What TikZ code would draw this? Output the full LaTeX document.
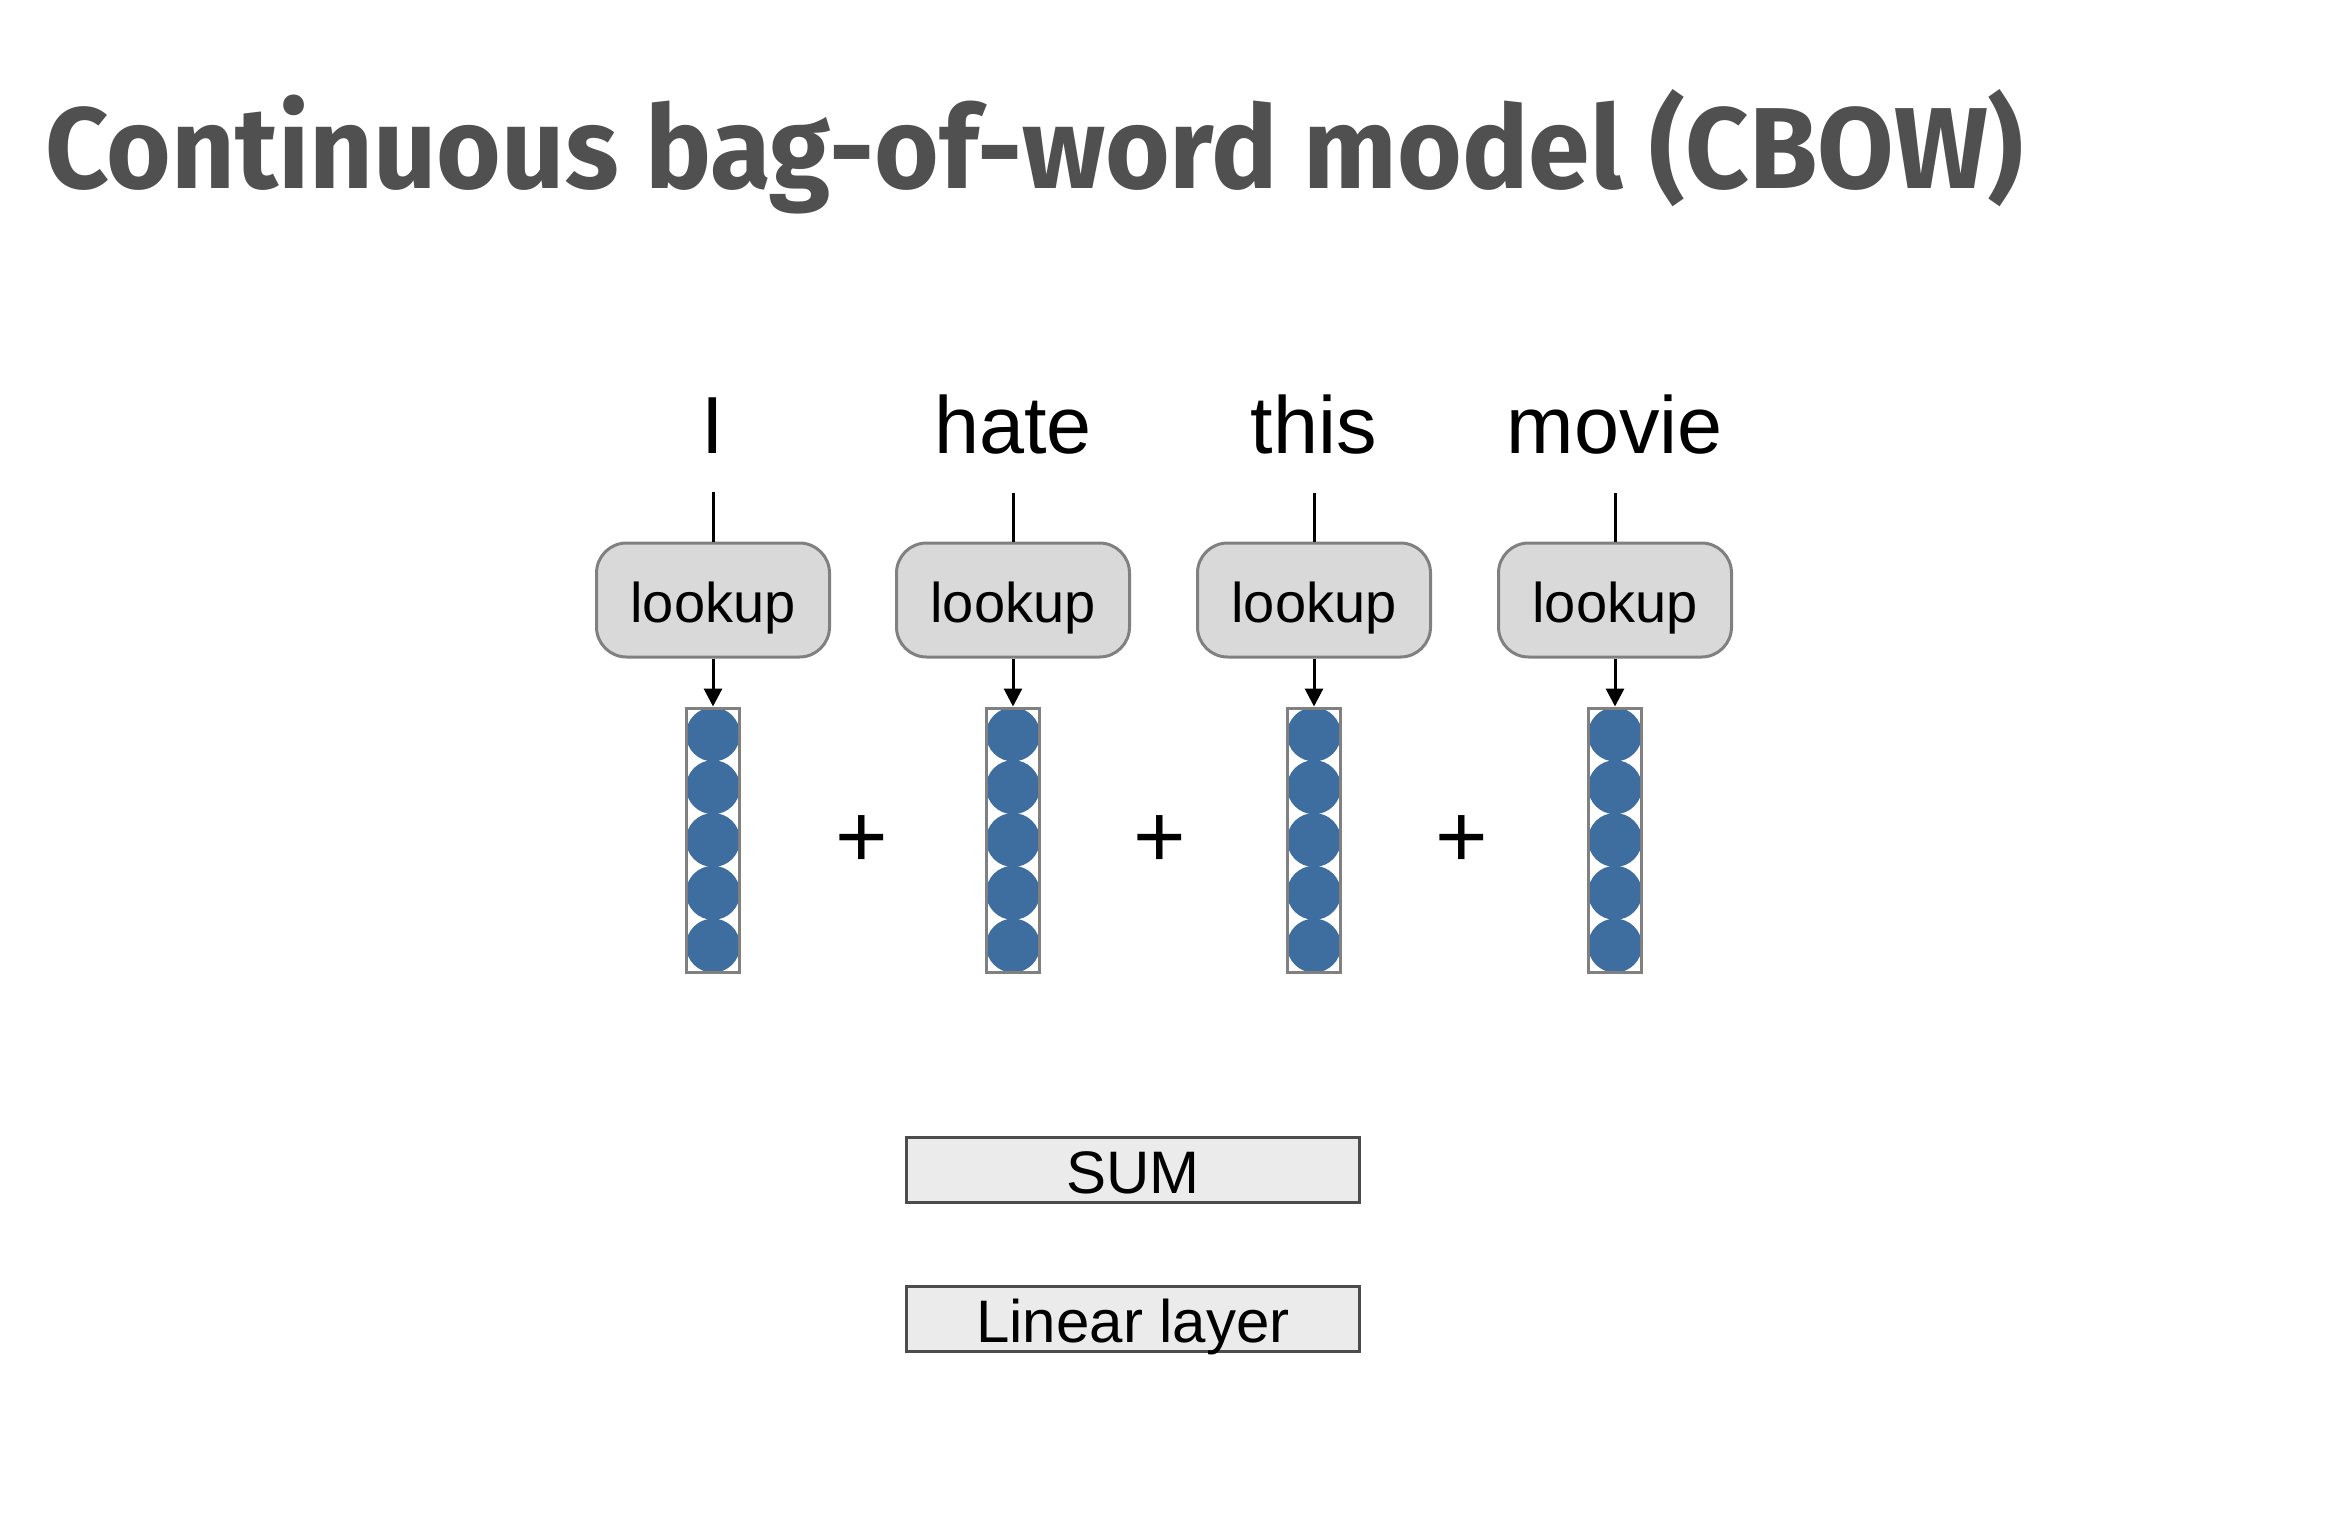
\documentclass[tikz,border=0pt]{standalone}
\usepackage{fontspec}
\usepackage{graphicx}
\setmainfont{Liberation Sans}
\newfontfamily\titlefont{Fira Sans}
\usetikzlibrary{arrows.meta}
\definecolor{titlegray}{RGB}{80,80,80}
\definecolor{vecblue}{RGB}{62,110,160}
\definecolor{boxgray}{RGB}{217,217,217}
\definecolor{layergray}{RGB}{235,235,235}
\tikzset{
  word/.style={anchor=base,inner xsep=0pt,inner ysep=39pt,font=\fontsize{81}{90}\selectfont},
  lookupbox/.style={draw=gray,fill=boxgray,line width=3pt,rounded corners=30pt,minimum width=233pt,minimum height=114pt,inner sep=0pt,text height=44pt,text depth=0pt,font=\fontsize{56}{60}\selectfont},
  vecbox/.style={draw=gray,line width=3pt,minimum width=53pt,minimum height=264pt,inner sep=0pt},
  layerbox/.style={draw=black!70,fill=layergray,line width=3pt,minimum width=453pt,minimum height=65pt,inner sep=0pt,text height=47pt,text depth=0pt,font=\fontsize{60}{64}\selectfont},
  plus/.style={font=\fontsize{90}{90}\selectfont},
  arr/.style={line width=3pt,-{Triangle[length=18pt,width=18pt]}}
}
\begin{document}
\begin{tikzpicture}[x=1pt,y=1pt,yscale=-1,xscale=1]
\useasboundingbox (0,0) rectangle (2352,1518);
\node[anchor=base west,inner sep=0pt,text=titlegray] (title) at (45,188) {\resizebox{1978pt}{99pt}{\titlefont\bfseries Continuous bag-of-word model (CBOW)}};

\node[word] (w1) at (713,453) {I};
\node[word] (w2) at (1013,453) {hate};
\node[word] (w3) at (1314,453) {this};
\node[word] (w4) at (1615,453) {movie};

\node[lookupbox] (l1) at (713,600) {lookup};
\node[lookupbox] (l2) at (1013,600) {lookup};
\node[lookupbox] (l3) at (1314,600) {lookup};
\node[lookupbox] (l4) at (1615,600) {lookup};

\foreach \cx in {713,1013,1314,1615}
  \foreach \cy in {734.4,787.2,840,892.8,945.6}
    \fill[vecblue] (\cx,\cy) circle (27);
\node[vecbox] (v1) at (713,840) {};
\node[vecbox] (v2) at (1013,840) {};
\node[vecbox] (v3) at (1314,840) {};
\node[vecbox] (v4) at (1615,840) {};

\draw[line width=3pt] (w1.south) -- (l1.north);
\draw[line width=3pt] (w2.south) -- (l2.north);
\draw[line width=3pt] (w3.south) -- (l3.north);
\draw[line width=3pt] (w4.south) -- (l4.north);
\draw[arr] (l1.south) -- (v1.north);
\draw[arr] (l2.south) -- (v2.north);
\draw[arr] (l3.south) -- (v3.north);
\draw[arr] (l4.south) -- (v4.north);

\node[plus] (p1) at (862,842) {+};
\node[plus] (p2) at (1160,842) {+};
\node[plus] (p3) at (1462,842) {+};

\node[layerbox] (sum) at (1133,1170) {SUM};
\node[layerbox] (lin) at (1133,1319) {Linear layer};
\end{tikzpicture}
\end{document}
